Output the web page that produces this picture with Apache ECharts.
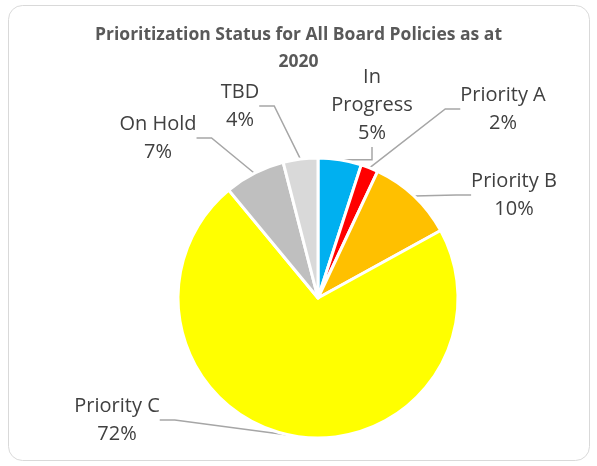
<!DOCTYPE html>
<html>
<head>
<meta charset="utf-8">
<script src="https://cdn.jsdelivr.net/npm/echarts@6/dist/echarts.min.js"></script>
<style>
  html, body { margin: 0; padding: 0; background: #fff; }
  #pieChart { width: 597px; height: 466px; }
</style>
</head>
<body>
<div id="pieChart"></div>
<script>
var categories = ['In\nProgress', 'Priority A', 'Priority B', 'Priority C', 'On Hold', 'TBD'];
var shares = [5, 2, 10, 72, 7, 4];
var colors = ['#00b0f0', '#ff0000', '#ffc000', '#ffff00', '#bfbfbf', '#d9d9d9'];
// where each label sits (centre of the text block)
var labelSpots = [[372, 105], [503, 109], [514, 195], [117, 420], [158, 138], [240, 106]];

var myChart = echarts.init(document.getElementById('pieChart'));

var pieData = categories.map(function (name, i) {
    return { name: name, value: shares[i], itemStyle: { color: colors[i] } };
});

var option = {
    title: {
        text: 'Prioritization Status for All Board Policies as at\n2020',
        left: 'center',
        top: 17,
        textStyle: {
            fontFamily: 'Open Sans',
            fontSize: 17.5,
            fontWeight: 'bold',
            color: '#595959',
            lineHeight: 27
        }
    },
    graphic: [{
        type: 'rect',
        shape: { x: 8.5, y: 5.5, width: 581, height: 455, r: 14 },
        style: { fill: 'none', stroke: '#d9d9d9', lineWidth: 1 },
        silent: true
    }],
    series: [{
        type: 'pie',
        center: [318, 298],
        radius: [0, 140],
        startAngle: 90,
        clockwise: true,
        data: pieData,
        itemStyle: { borderColor: '#ffffff', borderWidth: 3 },
        label: {
            show: true,
            formatter: function (p) { return p.name + '\n' + Math.round(p.percent) + '%'; },
            fontFamily: 'Open Sans',
            fontSize: 20,
            lineHeight: 28,
            color: '#404040',
            align: 'center'
        },
        labelLine: {
            show: true,
            length: 20,
            length2: 15,
            lineStyle: { color: '#a6a6a6', width: 1.5 }
        },
        labelLayout: function (params) {
            var spot = labelSpots[params.dataIndex];
            return { x: spot[0], y: spot[1], align: 'center', verticalAlign: 'middle' };
        },
        emphasis: { disabled: true }
    }]
};
myChart.setOption(option);
</script>
</body>
</html>
